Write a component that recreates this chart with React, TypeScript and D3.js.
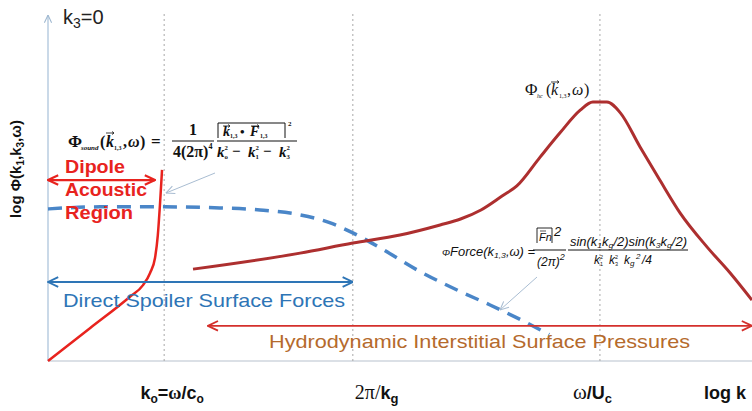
import React, { useEffect } from "react";
import * as d3 from "d3";

const W = 752;
const H = 411;

// Spectral curves in normalised log-k / log-Φ units (0–100 on both axes)
const dipoleK = [0, 6, 11.6, 13.5, 14.5, 15.2, 15.6, 15.9, 16.2];
const dipolePhi = [0, 9.5, 18.4, 21.8, 25.3, 29.6, 36.2, 44.8, 54.9];

const forceK = [0, 7.4, 15.9, 24.4, 30.1, 35.8, 40.1, 43.3, 47.2, 52.4, 58.1, 62.8, 67.5, 71.2];
const forcePhi = [43.7, 44.3, 44.3, 44.0, 43.4, 42.0, 39.7, 36.8, 32.5, 26.2, 20.4, 16.1, 11.5, 7.6];

const hydroK = [20.6, 35.8, 43.3, 50, 55.7, 58.6, 61.5, 64.5, 66.6, 69.9, 72.7, 75.6, 77.4, 79.4, 81.3, 84.1, 86.9, 89.8, 93.6, 96.9, 100];
const hydroPhi = [26.4, 31.0, 33.9, 36.2, 39.1, 40.8, 43.4, 47.4, 50.3, 58.6, 65.5, 72.1, 74.4, 74.4, 71.3, 61.5, 52.0, 42.5, 32.8, 25.3, 17.5];

// Characteristic wavenumbers: k_o, 2π/k_g, ω/U_c
const markK = [16.5, 43.3, 78.4];

// Region ranges [kStart, kEnd, level]
const dipoleRange = [0, 15.2, 52.0];
const forceRange = [0, 43.3, 22.7];
const hydroRange = [22.7, 100, 10.1];

const SANS = "Arial, 'Liberation Sans', sans-serif";
const SERIF = "'Times New Roman', 'Liberation Serif', serif";

const RED = "#e8231e";
const DARKRED = "#ad2f2f";
const BLUE = "#4a86c8";
const BLUE_TXT = "#2e75b6";
const BROWN = "#b56a2c";
const ARROW_RED = "#d4302c";
const CALLOUT = "#a9bdd2";

// small vector arrow drawn over a letter
function Vec({ x, y, w }: { x: number; y: number; w: number }) {
  return (
    <g stroke="#111" strokeWidth={0.8} fill="none">
      <line x1={x} y1={y} x2={x + w} y2={y} />
      <path d={`M${x + w - 2},${y - 1.5} L${x + w},${y} L${x + w - 2},${y + 1.5}`} />
    </g>
  );
}

// letter with stacked superscript / subscript
function KSq({
  x,
  y,
  sub,
  size,
  sup = "2",
  italic = true,
  bold = false,
  family = SERIF,
}: {
  x: number;
  y: number;
  sub: string;
  size: number;
  sup?: string;
  italic?: boolean;
  bold?: boolean;
  family?: string;
}) {
  const s = size * 0.45;
  const off = size * 0.5;
  return (
    <g fontFamily={family} fontWeight={bold ? "bold" : "normal"} fill="#111">
      <text x={x} y={y} fontSize={size} fontStyle={italic ? "italic" : "normal"}>
        k
      </text>
      <text x={x + off} y={y - size * 0.45} fontSize={s}>
        {sup}
      </text>
      <text x={x + off} y={y + size * 0.15} fontSize={s}>
        {sub}
      </text>
    </g>
  );
}

export default function App() {
  useEffect(() => {
    document.body.style.margin = "0";
  }, []);

  const x = d3.scaleLinear().domain([0, 100]).range([48, 752]);
  const y = d3.scaleLinear().domain([0, 100]).range([361, 13]);

  const line = d3
    .line<[number, number]>()
    .x((d) => x(d[0]))
    .y((d) => y(d[1]))
    .curve(d3.curveMonotoneX);

  const dipole = line(dipoleK.map((k, i) => [k, dipolePhi[i]]));
  const force = line(forceK.map((k, i) => [k, forcePhi[i]]));
  const hydro = line(hydroK.map((k, i) => [k, hydroPhi[i]]));

  const marker = (id: string, color: string, size: number, sw: number) => (
    <marker
      id={id}
      viewBox="0 0 10 10"
      refX={9.5}
      refY={5}
      markerWidth={size}
      markerHeight={size}
      markerUnits="userSpaceOnUse"
      orient="auto-start-reverse"
    >
      <path d="M1,1 L9.5,5 L1,9" fill="none" stroke={color} strokeWidth={sw} />
    </marker>
  );

  return (
    <svg width={W} height={H} style={{ display: "block", background: "#fff" }}>
      <defs>
        {marker("mRed", RED, 12, 1.8)}
        {marker("mBlue", BLUE_TXT, 12, 1.6)}
        {marker("mBrown", ARROW_RED, 12, 1.5)}
        {marker("mAxis", "#9fb8d0", 9, 1.2)}
        {marker("mCallout", CALLOUT, 10, 1.1)}
      </defs>

      {/* axes */}
      <line x1={x(0)} y1={y(0)} x2={x(100)} y2={y(0)} stroke="#cfd6de" strokeWidth={1.5} />
      <line
        x1={x(0)}
        y1={y(0)}
        x2={x(0)}
        y2={y(99.4)}
        stroke="#b8cde0"
        strokeWidth={1.5}
        markerEnd="url(#mAxis)"
      />

      {/* characteristic wavenumber guides */}
      {markK.map((k, i) => (
        <line
          key={i}
          x1={x(k)}
          x2={x(k)}
          y1={y(0)}
          y2={y(100)}
          stroke="#a8a8a8"
          strokeWidth={1}
          strokeDasharray="2,3"
        />
      ))}

      {/* curves */}
      <path d={force ?? ""} fill="none" stroke={BLUE} strokeWidth={3.5} strokeDasharray="14,9" />
      <path d={hydro ?? ""} fill="none" stroke={DARKRED} strokeWidth={3} strokeLinejoin="round" />
      <path d={dipole ?? ""} fill="none" stroke={RED} strokeWidth={2.5} />

      {/* region arrows */}
      <line
        x1={x(dipoleRange[0])}
        x2={x(dipoleRange[1])}
        y1={y(dipoleRange[2])}
        y2={y(dipoleRange[2])}
        stroke={RED}
        strokeWidth={2.2}
        markerStart="url(#mRed)"
        markerEnd="url(#mRed)"
      />
      <line
        x1={x(forceRange[0])}
        x2={x(forceRange[1])}
        y1={y(forceRange[2])}
        y2={y(forceRange[2])}
        stroke={BLUE_TXT}
        strokeWidth={2}
        markerStart="url(#mBlue)"
        markerEnd="url(#mBlue)"
      />
      <line
        x1={x(hydroRange[0])}
        x2={x(hydroRange[1])}
        y1={y(hydroRange[2])}
        y2={y(hydroRange[2])}
        stroke={ARROW_RED}
        strokeWidth={1.8}
        markerStart="url(#mBrown)"
        markerEnd="url(#mBrown)"
      />

      {/* region labels */}
      <g fontFamily={SANS} fontWeight="bold" fontSize={18} fill={RED}>
        <text x={65} y={173} textLength={60} lengthAdjust="spacingAndGlyphs">Dipole</text>
        <text x={65} y={196} textLength={82} lengthAdjust="spacingAndGlyphs">Acoustic</text>
        <text x={65} y={219} textLength={68} lengthAdjust="spacingAndGlyphs">Region</text>
      </g>
      <text x={63} y={307} fontFamily={SANS} fontSize={19} fill={BLUE_TXT} textLength={282} lengthAdjust="spacingAndGlyphs">
        Direct Spoiler Surface Forces
      </text>
      <text x={269} y={348} fontFamily={SANS} fontSize={19} fill={BROWN} textLength={421} lengthAdjust="spacingAndGlyphs">
        Hydrodynamic Interstitial Surface Pressures
      </text>

      {/* callout pointers */}
      <line x1={215} y1={173} x2={166} y2={193} stroke={CALLOUT} strokeWidth={1} markerEnd="url(#mCallout)" />
      <line x1={537} y1={277} x2={500} y2={310} stroke={CALLOUT} strokeWidth={1} markerEnd="url(#mCallout)" />

      {/* k3 = 0 */}
      <text x={63} y={24} fontFamily={SANS} fontSize={20} fill="#222">
        k<tspan fontSize={14} dy={4}>3</tspan>
        <tspan dy={-4}>=0</tspan>
      </text>

      {/* y axis title */}
      <text
        transform="translate(21,169) rotate(-90)"
        textAnchor="middle"
        fontFamily={SANS}
        fontWeight="bold"
        fontSize={15}
        fill="#111"
      >
        log Φ(k<tspan fontSize={10} dy={3}>1</tspan>
        <tspan dy={-3}>,k</tspan>
        <tspan fontSize={10} dy={3}>3</tspan>
        <tspan dy={-3}>,ω)</tspan>
      </text>

      {/* x axis labels */}
      <g fontWeight="bold" fontSize={18} fill="#111">
        <text x={x(markK[0]) + 8} y={399} textAnchor="middle" fontFamily={SANS}>
          k<tspan fontSize={12} dy={4}>o</tspan>
          <tspan dy={-4}>=</tspan>
          <tspan fontFamily={SERIF}>ω</tspan>/c<tspan fontSize={12} dy={4}>o</tspan>
        </text>
        <text x={x(markK[1]) + 2} y={399} fontFamily={SERIF} fontWeight="normal" fontSize={20}>
          2π/<tspan fontFamily={SANS} fontWeight="bold" fontSize={18}>k</tspan>
          <tspan fontFamily={SANS} fontWeight="bold" fontSize={13} dy={4}>g</tspan>
        </text>
        <text x={573} y={399} fontFamily={SANS}>
          <tspan fontFamily={SERIF} fontWeight="normal" fontSize={21}>ω</tspan>/U<tspan fontSize={13} dy={4}>c</tspan>
        </text>
        <text x={725} y={399} textAnchor="middle" fontFamily={SANS}>
          log k
        </text>
      </g>

      {/* Φ_sound formula */}
      <g fontFamily={SERIF} fontWeight="bold" fill="#111">
        <text x={68} y={147} fontSize={17}>Φ</text>
        <text x={81} y={150} fontSize={7} fontStyle="italic">sound</text>
        <text x={100} y={147} fontSize={16}>(</text>
        <text x={106} y={147} fontSize={16} fontStyle="italic">k</text>
        <Vec x={106} y={133} w={8} />
        <text x={114} y={150} fontSize={6}>1,3</text>
        <text x={123} y={147} fontSize={16}>,</text>
        <text x={128} y={147} fontSize={16} fontStyle="italic">ω</text>
        <text x={140} y={147} fontSize={16}>)</text>
        <text x={151} y={147} fontSize={17}>=</text>

        <text x={193} y={135} fontSize={16} textAnchor="middle">1</text>
        <line x1={172} x2={214} y1={141} y2={141} stroke="#111" strokeWidth={1.2} />
        <text x={173} y={157} fontSize={16}>
          4(2π)<tspan fontSize={8} dy={-8}>4</tspan>
        </text>

        {/* |k · F|^2 */}
        <path d="M218,138 L218,123 L285,123 L285,138" fill="none" stroke="#111" strokeWidth={1} />
        <text x={223} y={136} fontSize={14} fontStyle="italic">k</text>
        <Vec x={223} y={126} w={7} />
        <text x={230} y={138} fontSize={6}>1,3</text>
        <text x={240} y={136} fontSize={13}>•</text>
        <text x={250} y={136} fontSize={14} fontStyle="italic">F</text>
        <Vec x={251} y={126} w={8} />
        <text x={260} y={138} fontSize={6}>1,3</text>
        <text x={288} y={126} fontSize={7}>2</text>
        <line x1={217} x2={297} y1={141} y2={141} stroke="#111" strokeWidth={1.2} />
      </g>
      <KSq x={217} y={157} size={15} sub="o" bold />
      <text x={232} y={156} fontFamily={SERIF} fontSize={15} fontWeight="bold" fill="#111">−</text>
      <KSq x={248} y={157} size={15} sub="1" bold />
      <text x={263} y={156} fontFamily={SERIF} fontSize={15} fontWeight="bold" fill="#111">−</text>
      <KSq x={279} y={157} size={15} sub="3" bold />

      {/* Φ_hc label */}
      <g fontFamily={SERIF} fill="#111">
        <text x={525} y={95} fontSize={17}>Φ</text>
        <text x={537} y={98} fontSize={6} fontStyle="italic">hc</text>
        <text x={546} y={95} fontSize={16}>(</text>
        <text x={551} y={95} fontSize={16} fontStyle="italic">k</text>
        <Vec x={551} y={82} w={8} />
        <text x={559} y={98} fontSize={6}>1,3</text>
        <text x={567} y={95} fontSize={16}>,</text>
        <text x={572} y={95} fontSize={16} fontStyle="italic">ω</text>
        <text x={584} y={95} fontSize={16}>)</text>
      </g>

      {/* Φ_Force formula */}
      <g fontFamily={SANS} fontStyle="italic" fill="#111">
        <text x={442} y={256} fontSize={12} textLength={93} lengthAdjust="spacingAndGlyphs">
          <tspan fontSize={9}>Φ</tspan>Force(k<tspan fontSize={8} dy={2}>1,3</tspan>
          <tspan dy={-2}>,ω) =</tspan>
        </text>
        <path d="M537,243 L537,228 L552,228 L552,243" fill="none" stroke="#111" strokeWidth={0.9} />
        <text x={539} y={241} fontSize={11}>Fn</text>
        <line x1={540} x2={546} y1={231} y2={231} stroke="#111" strokeWidth={0.7} />
        <text x={554} y={236} fontSize={13}>2</text>
        <line x1={533} x2={566} y1={250} y2={250} stroke="#111" strokeWidth={1} />
        <text x={537} y={266} fontSize={12}>
          (2π)<tspan fontSize={9} dy={-6}>2</tspan>
        </text>
        <text x={570} y={246} fontSize={12} textLength={117} lengthAdjust="spacingAndGlyphs">
          sin(k<tspan fontSize={8} dy={2}>1</tspan>
          <tspan dy={-2}>k</tspan>
          <tspan fontSize={8} dy={2}>g</tspan>
          <tspan dy={-2}>/2)sin(k</tspan>
          <tspan fontSize={8} dy={2}>3</tspan>
          <tspan dy={-2}>k</tspan>
          <tspan fontSize={8} dy={2}>g</tspan>
          <tspan dy={-2}>/2)</tspan>
        </text>
        <line x1={568} x2={688} y1={250} y2={250} stroke="#111" strokeWidth={1} />
      </g>
      <KSq x={594} y={264} size={12} sub="1" family={SANS} />
      <KSq x={609} y={264} size={12} sub="3" family={SANS} />
      <g fontFamily={SANS} fontStyle="italic" fill="#111">
        <text x={624} y={264} fontSize={12}>k</text>
        <text x={630} y={266} fontSize={8}>g</text>
        <text x={636} y={259} fontSize={8}>2</text>
        <text x={642} y={264} fontSize={12}>/4</text>
      </g>
    </svg>
  );
}
